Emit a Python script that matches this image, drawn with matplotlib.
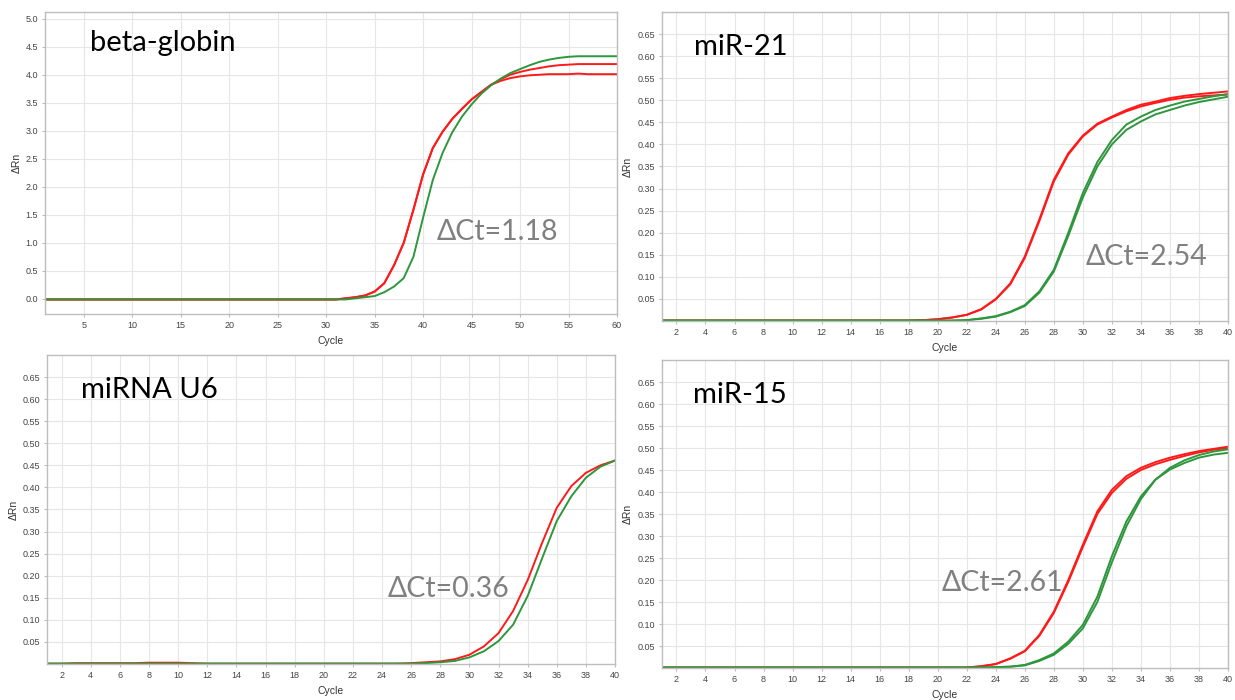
import matplotlib
matplotlib.use("Agg")
import matplotlib.pyplot as plt
import numpy as np

# ---------------- data ----------------
cyc60 = list(range(1, 61))
cyc40 = list(range(1, 41))

# beta-globin (cycles 1..60)
bg_red_a = [-0.01]*31 + [0.01, 0.03, 0.06, 0.13, 0.28, 0.60, 1.00, 1.59, 2.22,
            2.69, 2.98, 3.21, 3.39, 3.56, 3.69, 3.82, 3.92, 4.00, 4.05,
            4.09, 4.12, 4.15, 4.17, 4.18, 4.19, 4.19, 4.19, 4.19, 4.19]
bg_red_b = [-0.01]*31 + [0.01, 0.03, 0.06, 0.13, 0.28, 0.60, 1.00, 1.59, 2.22,
            2.69, 2.98, 3.21, 3.39, 3.56, 3.69, 3.82, 3.89, 3.94, 3.97,
            3.99, 4.00, 4.01, 4.01, 4.01, 4.02, 4.01, 4.01, 4.01, 4.01]
bg_green = [-0.01]*32 + [0.01, 0.03, 0.05, 0.12, 0.22, 0.37, 0.75, 1.45,
            2.12, 2.60, 2.97, 3.25, 3.47, 3.66, 3.81, 3.93, 4.03, 4.10,
            4.17, 4.23, 4.27, 4.30, 4.32, 4.33, 4.33, 4.33, 4.33, 4.33]

# miR-21 (cycles 1..40)
m21_red_a = [0.001]*17 + [0.001, 0.002, 0.004, 0.008, 0.014, 0.027, 0.050, 0.085, 0.146,
             0.230, 0.320, 0.380, 0.420, 0.447, 0.463, 0.478, 0.490, 0.497, 0.505,
             0.510, 0.514, 0.517, 0.520]
m21_red_b = [0.001]*17 + [0.001, 0.002, 0.004, 0.008, 0.014, 0.026, 0.049, 0.083, 0.143,
             0.226, 0.316, 0.377, 0.418, 0.445, 0.461, 0.475, 0.486, 0.494, 0.501,
             0.506, 0.509, 0.511, 0.513]
m21_green_a = [0.001]*17 + [0.001, 0.001, 0.001, 0.001, 0.002, 0.006, 0.011, 0.021, 0.036,
               0.067, 0.116, 0.200, 0.290, 0.360, 0.410, 0.445, 0.463, 0.478, 0.488,
               0.497, 0.503, 0.509, 0.514]
m21_green_b = [0.001]*17 + [0.001, 0.001, 0.001, 0.001, 0.002, 0.005, 0.010, 0.020, 0.034,
               0.064, 0.112, 0.193, 0.280, 0.350, 0.400, 0.433, 0.452, 0.468, 0.478,
               0.488, 0.496, 0.502, 0.508]

# miRNA U6 (cycles 1..40)
u6_red = [0.001, 0.001, 0.002, 0.002, 0.002, 0.002, 0.002, 0.003, 0.003, 0.003,
          0.002, 0.001, 0.001, 0.001, 0.001, 0.001, 0.001, 0.001, 0.001, 0.001,
          0.001, 0.001, 0.001, 0.001, 0.001, 0.002, 0.004, 0.006, 0.011, 0.021,
          0.040, 0.070, 0.120, 0.190, 0.275, 0.354, 0.403, 0.433, 0.450, 0.461]
u6_green = [0.001, 0.001, 0.001, 0.001, 0.001, 0.001, 0.001, 0.001, 0.001, 0.001,
            0.001, 0.001, 0.001, 0.001, 0.001, 0.001, 0.001, 0.001, 0.001, 0.001,
            0.001, 0.001, 0.001, 0.001, 0.001, 0.001, 0.002, 0.004, 0.007, 0.015,
            0.029, 0.052, 0.089, 0.154, 0.240, 0.324, 0.380, 0.422, 0.447, 0.461]

# miR-15 (cycles 1..40)
m15_red_a = [0.001]*21 + [0.001, 0.004, 0.009, 0.022, 0.039, 0.075, 0.128, 0.200, 0.280,
             0.356, 0.405, 0.436, 0.455, 0.468, 0.478, 0.486, 0.493, 0.498, 0.503]
m15_red_b = [0.001]*21 + [0.001, 0.004, 0.009, 0.021, 0.038, 0.073, 0.125, 0.196, 0.275,
             0.350, 0.398, 0.430, 0.450, 0.463, 0.473, 0.482, 0.490, 0.496, 0.500]
m15_green_a = [0.001]*21 + [0.001, 0.001, 0.002, 0.003, 0.007, 0.018, 0.033, 0.060, 0.098,
               0.162, 0.254, 0.333, 0.390, 0.428, 0.451, 0.466, 0.478, 0.485, 0.489]
m15_green_b = [0.001]*21 + [0.001, 0.001, 0.002, 0.003, 0.006, 0.016, 0.030, 0.055, 0.090,
               0.150, 0.240, 0.322, 0.384, 0.428, 0.455, 0.472, 0.484, 0.492, 0.497]

titles = ["beta-globin", "miR-21", "miRNA U6", "miR-15"]
dct_labels = ["ΔCt=1.18", "ΔCt=2.54", "ΔCt=0.36", "ΔCt=2.61"]
bg_xticks = list(range(5, 61, 5))
bg_yticks = [0.0, 0.5, 1.0, 1.5, 2.0, 2.5, 3.0, 3.5, 4.0, 4.5, 5.0]
mi_xticks = list(range(2, 41, 2))
mi_yticks = [0.05, 0.10, 0.15, 0.20, 0.25, 0.30, 0.35, 0.40, 0.45, 0.50, 0.55, 0.60, 0.65]

RED = "#ff1a1a"
GREEN = "#2e963c"

fig = plt.figure(figsize=(12.35, 7.0), dpi=100)
fig.patch.set_facecolor("white")

rects = [
    [0.0364, 0.5514, 0.4632, 0.4315],
    [0.5360, 0.5414, 0.4583, 0.4415],
    [0.0381, 0.0514, 0.4599, 0.4415],
    [0.5360, 0.0457, 0.4583, 0.4400],
]

title_pos = [(0.079, 0.897), (0.057, 0.887), (0.060, 0.887), (0.055, 0.886)]
dct_pos = [(41.4, 1.20), (30.2, 0.145), (24.4, 0.170), (20.3, 0.193)]

series = [
    (cyc60, [(bg_red_a, RED), (bg_red_b, RED), (bg_green, GREEN)]),
    (cyc40, [(m21_red_a, RED), (m21_red_b, RED), (m21_green_a, GREEN), (m21_green_b, GREEN)]),
    (cyc40, [(u6_red, RED), (u6_green, GREEN)]),
    (cyc40, [(m15_red_a, RED), (m15_red_b, RED), (m15_green_a, GREEN), (m15_green_b, GREEN)]),
]

for i in range(4):
    ax = fig.add_axes(rects[i])
    x, lines = series[i]
    for ys, col in lines:
        ax.plot(x, ys, color=col, lw=1.4, solid_joinstyle="round")
    if i == 0:
        ax.set_xlim(1, 60)
        ax.set_ylim(-0.27, 5.12)
        ax.set_xticks(bg_xticks)
        ax.set_yticks(bg_yticks)
        ax.set_yticklabels([f"{v:.1f}" for v in bg_yticks])
    else:
        ax.set_xlim(1, 40)
        ax.set_ylim(0, 0.70)
        ax.set_xticks(mi_xticks)
        ax.set_yticks(mi_yticks)
        ax.set_yticklabels([f"{v:.2f}" for v in mi_yticks])
    ax.grid(True, color="#e6e6e6", lw=0.8)
    ax.set_axisbelow(True)
    for s in ax.spines.values():
        s.set_color("#bdbdbd")
        s.set_linewidth(1.0)
    ax.tick_params(axis="both", labelsize=6.5, colors="#bdbdbd", labelcolor="#444444",
                   length=2, pad=3)
    for lab in ax.get_xticklabels() + ax.get_yticklabels():
        lab.set_family("Liberation Sans")
    ax.set_xlabel("Cycle", fontsize=7.5, color="#333333", labelpad=4, family="Liberation Sans")
    ax.set_ylabel("ΔRn", fontsize=7.5, color="#333333", labelpad=3, family="Liberation Sans")
    ax.text(title_pos[i][0], title_pos[i][1], titles[i], transform=ax.transAxes,
            fontsize=21, color="black", va="center", ha="left", family=["Lato", "DejaVu Sans"])
    ax.text(dct_pos[i][0], dct_pos[i][1], dct_labels[i], fontsize=20.5, color="#808080",
            va="center", ha="left", family=["Lato", "DejaVu Sans"])

fig.savefig("out.png", dpi=100, facecolor="white")
